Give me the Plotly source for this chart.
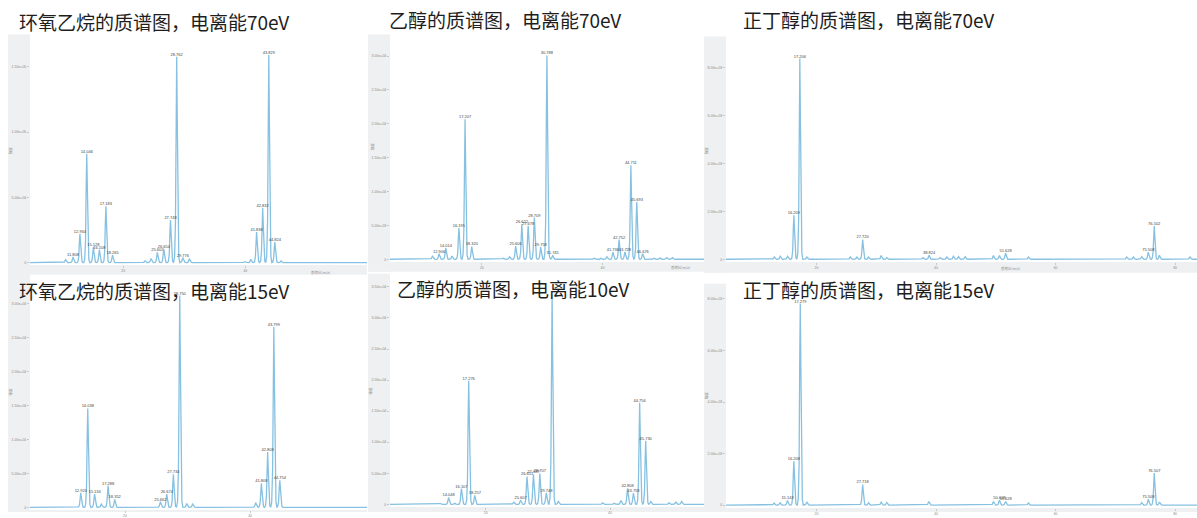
import numpy as np
import plotly.graph_objects as go

W, H = 1197, 518

# ---------------- data ----------------
TITLES = ["环氧乙烷的质谱图，电离能70eV", "乙醇的质谱图，电离能70eV", "正丁醇的质谱图，电离能70eV",
          "环氧乙烷的质谱图，电离能15eV", "乙醇的质谱图，电离能10eV", "正丁醇的质谱图，电离能15eV"]

# Panel A: ethylene oxide, 70 eV
A_PEAK_MZ = [11.808, 12.934, 14.046, 15.128, 16.108, 17.183, 18.265, 25.602, 26.654, 27.748,
             28.762, 29.776, 41.838, 42.832, 43.829, 44.824]
A_PEAK_INT = [4300, 22080, 83500, 11930, 9900, 43150, 5840, 7870, 10400, 32740,
              157870, 3800, 23350, 42130, 159140, 15740]
A_MINOR_MZ = [10.6, 23.58, 24.57, 30.84, 39.95, 40.88, 45.84]
A_MINOR_INT = [2280, 1270, 3050, 3050, 900, 2540, 1270]

# Panel B: ethanol, 70 eV
B_PEAK_MZ = [12.906, 14.014, 16.195, 17.207, 18.320, 25.606, 26.622, 27.678, 28.709, 29.758,
             30.788, 31.745, 41.736, 42.752, 43.728, 44.711, 45.693, 46.676]
B_PEAK_INT = [820, 1700, 4600, 20670, 1890, 1940, 5180, 4940, 6150, 1790,
              30100, 580, 1060, 2900, 1100, 13890, 8470, 820]
B_MINOR_MZ = [11.81, 15.06, 23.5, 24.6, 38.65, 39.75, 40.75, 48.57, 49.56, 50.67, 51.6, 55.7]
B_MINOR_INT = [440, 480, 150, 380, 200, 150, 350, 200, 200, 250, 250, 100]

# Panel C: n-butanol, 70 eV
C_PEAK_MZ = [16.209, 17.206, 27.720, 38.824, 51.628, 75.508, 76.502]
C_PEAK_INT = [1840, 8370, 825, 165, 260, 300, 1390]
C_MINOR_MZ = [12.93, 13.93, 15.16, 18.39, 25.64, 26.75, 28.7, 30.82, 31.77, 37.79, 40.69, 41.8,
              42.91, 43.75, 44.87, 49.6, 50.6, 55.46, 71.9, 73.02, 74.41, 77.37, 82.49]
C_MINOR_INT = [96, 124, 124, 96, 96, 96, 96, 151, 69, 69, 69, 96,
               124, 110, 110, 151, 151, 96, 96, 96, 110, 165, 96]

# Panel D: ethylene oxide, 15 eV
D_PEAK_MZ = [12.920, 14.038, 15.134, 17.288, 18.352, 25.662, 26.674, 27.734, 28.750,
             41.808, 42.808, 43.799, 44.754]
D_PEAK_INT = [2140, 14590, 1950, 3160, 1170, 830, 1950, 4860, 31230,
              3550, 8170, 26600, 3990]
D_MINOR_MZ = [16.22, 29.87, 30.83, 40.9]
D_MINOR_INT = [490, 580, 490, 700]

# Panel E: ethanol, 10 eV
E_PEAK_MZ = [14.048, 16.107, 17.276, 18.257, 25.607, 26.651, 27.687, 28.707, 29.748,
             42.808, 43.758, 44.756, 45.730]
E_PEAK_INT = [1110, 2540, 19900, 1430, 690, 4500, 4820, 4980, 1850,
              2600, 1800, 16370, 10220]
E_MINOR_MZ = [12.6, 15.03, 24.54, 30.68, 31.7, 38.8, 40.67, 41.74, 46.55, 49.49, 50.56, 51.52]
E_MINOR_INT = [160, 210, 370, 33790, 480, 260, 210, 640, 480, 260, 370, 480]

# Panel F: n-butanol, 15 eV
F_PEAK_MZ = [15.143, 16.208, 17.279, 27.718, 50.608, 51.628, 75.508, 76.507]
F_PEAK_INT = [180, 1700, 7820, 800, 190, 140, 230, 1240]
F_MINOR_MZ = [12.9, 13.9, 18.39, 28.7, 30.82, 31.77, 38.79, 49.6, 55.46, 74.41, 77.37]
F_MINOR_INT = [80, 90, 115, 90, 115, 100, 140, 140, 80, 100, 120]

# tick labels
LEFT_XTICKS = [20, 40]
RIGHT_XTICKS = [20, 40, 60, 80]
A_YTICKS = [0, 50000, 100000, 150000]
A_YTEXT = ["0", "5.00e+04", "1.00e+05", "1.50e+05"]
B_YTICKS = [0, 5000, 10000, 15000, 20000, 25000, 30000]
B_YTEXT = ["0", "5.00e+03", "1.00e+04", "1.50e+04", "2.00e+04", "2.50e+04", "3.00e+04"]
C_YTICKS = [0, 2000, 4000, 6000, 8000]
C_YTEXT = ["0", "2.00e+03", "4.00e+03", "6.00e+03", "8.00e+03"]
E_YTICKS = [0, 5000, 10000, 15000, 20000, 25000, 30000, 35000]
E_YTEXT = ["0", "5.00e+03", "1.00e+04", "1.50e+04", "2.00e+04", "2.50e+04", "3.00e+04", "3.50e+04"]
Y_TITLE = "强度"
X_TITLE = "质荷比(m/z)"

# ---------------- styling / layout (pixels) ----------------
LINE_COLOR = "#86c1e1"
STRIP_COLOR = "#eff0f2"
TICK_FONT = dict(family="Liberation Sans", size=3.5, color="#8a8a8a")
LABEL_FONT = dict(family="Liberation Sans", size=4, color="#444444")
TITLE_FONT = dict(family="Noto Sans CJK SC", size=19, color="#1e1e1e")
# peak shape template (relative offsets in m/z and relative heights)
DX = [-0.5, -0.34, -0.2, -0.1, 0.0, 0.1, 0.2, 0.34, 0.5]
REL = [0.0, 0.03, 0.2, 0.68, 1.0, 0.68, 0.2, 0.03, 0.0]

PANELS = [
    dict(peaks=(A_PEAK_MZ, A_PEAK_INT), minor=(A_MINOR_MZ, A_MINOR_INT),
         plot=(30, 367, 35, 268), strip_left=8, band_bottom=278,
         xr=(4.76, 59.9), yr=(-1742, 174770), xt=LEFT_XTICKS, yt=(A_YTICKS, A_YTEXT),
         title_xy=(17, 22), ytitle_xy=(10, 152), xtitle_xy=(320, 276)),
    dict(peaks=(B_PEAK_MZ, B_PEAK_INT), minor=(B_MINOR_MZ, B_MINOR_INT),
         plot=(390, 704, 35, 265), strip_left=368, band_bottom=275,
         xr=(4.76, 56.84), yr=(-392, 33180), xt=LEFT_XTICKS, yt=(B_YTICKS, B_YTEXT),
         title_xy=(387, 20), ytitle_xy=(372, 148), xtitle_xy=(680, 271)),
    dict(peaks=(C_PEAK_MZ, C_PEAK_INT), minor=(C_MINOR_MZ, C_MINOR_INT),
         plot=(726, 1197, 37, 265), strip_left=704, band_bottom=276,
         xr=(4.85, 83.66), yr=(-111, 9290), xt=RIGHT_XTICKS, yt=(C_YTICKS, C_YTEXT),
         title_xy=(741, 20), ytitle_xy=(706, 152), xtitle_xy=(1010, 272)),
    dict(peaks=(D_PEAK_MZ, D_PEAK_INT), minor=(D_MINOR_MZ, D_MINOR_INT),
         plot=(30, 367, 278, 516), strip_left=8, band_bottom=530,
         xr=(4.8, 58.7), yr=(-394, 34290), xt=LEFT_XTICKS, yt=(B_YTICKS, B_YTEXT),
         title_xy=(17, 294), ytitle_xy=(10, 396), xtitle_xy=None),
    dict(peaks=(E_PEAK_MZ, E_PEAK_INT), minor=(E_MINOR_MZ, E_MINOR_INT),
         plot=(390, 704, 277, 513), strip_left=368, band_bottom=530,
         xr=(4.62, 55.1), yr=(-429, 37110), xt=LEFT_XTICKS, yt=(E_YTICKS, E_YTEXT),
         title_xy=(395, 292), ytitle_xy=(370, 395), xtitle_xy=None),
    dict(peaks=(F_PEAK_MZ, F_PEAK_INT), minor=(F_MINOR_MZ, F_MINOR_INT),
         plot=(726, 1197, 287, 514), strip_left=704, band_bottom=530,
         xr=(4.85, 83.66), yr=(-115, 8594), xt=RIGHT_XTICKS, yt=(C_YTICKS, C_YTEXT),
         title_xy=(741, 293), ytitle_xy=(706, 400), xtitle_xy=None),
]


def px(x):
    return x / W


def py(y):
    return 1 - y / H


def profile(mzs, ints, xr):
    xs = np.array(sorted(set([xr[0], xr[1]] + [m + d for m in mzs for d in DX])))
    ys = np.zeros_like(xs)
    for m, h in zip(mzs, ints):
        ys += h * np.interp(xs - m, DX, REL, left=0.0, right=0.0)
    return xs, ys


fig = go.Figure()
shapes = []
annotations = []
layout_axes = {}

for i, p in enumerate(PANELS, start=1):
    x0, x1, ytop, ybot = p["plot"]
    xa = "x" if i == 1 else f"x{i}"
    ya = "y" if i == 1 else f"y{i}"
    all_mz = list(p["peaks"][0]) + list(p["minor"][0])
    all_int = list(p["peaks"][1]) + list(p["minor"][1])
    xs, ys = profile(all_mz, all_int, p["xr"])
    fig.add_trace(go.Scatter(x=xs, y=ys, mode="lines", xaxis=xa, yaxis=ya,
                             line=dict(color=LINE_COLOR, width=1.3), hoverinfo="skip",
                             showlegend=False))
    fig.add_trace(go.Scatter(x=p["peaks"][0], y=p["peaks"][1], mode="text", xaxis=xa, yaxis=ya,
                             text=[f"{m:.3f}" for m in p["peaks"][0]], textposition="top center",
                             textfont=LABEL_FONT, hoverinfo="skip", showlegend=False,
                             cliponaxis=False))
    layout_axes["xaxis" if i == 1 else f"xaxis{i}"] = dict(
        domain=[px(x0), px(x1)], anchor=ya, range=list(p["xr"]), tickvals=p["xt"],
        ticktext=[str(v) for v in p["xt"]], ticks="outside", ticklen=2, tickcolor="#c8c8c8",
        tickfont=TICK_FONT, showgrid=False, zeroline=False, showline=False, fixedrange=True)
    layout_axes["yaxis" if i == 1 else f"yaxis{i}"] = dict(
        domain=[py(ybot), py(ytop)], anchor=xa, range=list(p["yr"]), tickvals=p["yt"][0],
        ticktext=p["yt"][1], ticks="outside", ticklen=2, tickcolor="#c8c8c8",
        tickfont=TICK_FONT, showgrid=False, zeroline=False, showline=False, fixedrange=True)
    # grey axis strips of the screenshot
    shapes.append(dict(type="rect", xref="paper", yref="paper", layer="below",
                       x0=px(p["strip_left"]), x1=px(x0), y0=py(min(p["band_bottom"], H)), y1=py(ytop),
                       fillcolor=STRIP_COLOR, line=dict(width=0)))
    shapes.append(dict(type="rect", xref="paper", yref="paper", layer="below",
                       x0=px(p["strip_left"]), x1=px(x1), y0=py(min(p["band_bottom"], H)), y1=py(ybot),
                       fillcolor=STRIP_COLOR, line=dict(width=0)))
    tx, ty = p["title_xy"]
    annotations.append(dict(xref="paper", yref="paper", x=px(tx), y=py(ty), xanchor="left",
                            yanchor="middle", text=TITLES[i - 1], showarrow=False, font=TITLE_FONT))
    yx, yy = p["ytitle_xy"]
    annotations.append(dict(xref="paper", yref="paper", x=px(yx), y=py(yy), xanchor="center",
                            yanchor="middle", text=Y_TITLE, textangle=-90, showarrow=False,
                            font=dict(family="Noto Sans CJK SC", size=3.5, color="#8a8a8a")))
    if p["xtitle_xy"]:
        xx, xy = p["xtitle_xy"]
        annotations.append(dict(xref="paper", yref="paper", x=px(xx), y=py(xy), xanchor="center",
                                yanchor="middle", text=X_TITLE, showarrow=False,
                                font=dict(family="Noto Sans CJK SC", size=3.5, color="#8a8a8a")))

fig.update_layout(width=W, height=H, margin=dict(l=0, r=0, t=0, b=0), autosize=False,
                  paper_bgcolor="white", plot_bgcolor="rgba(0,0,0,0)",
                  shapes=shapes, annotations=annotations, showlegend=False, **layout_axes)

fig.write_html("out.html", config=dict(displayModeBar=False),
               post_script="document.body.style.margin='0';document.body.style.overflow='hidden';")
